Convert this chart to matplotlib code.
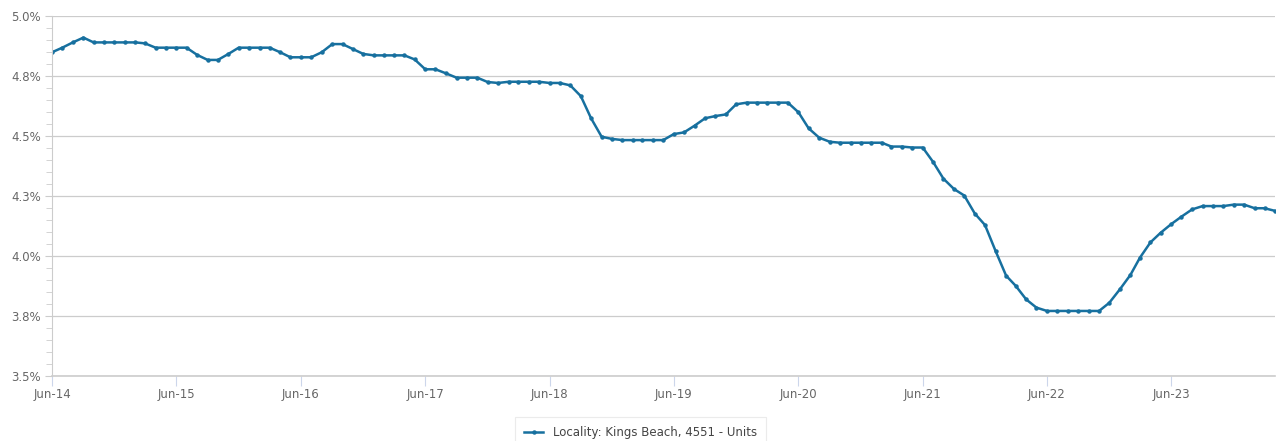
import numpy as np
import pandas as pd
import matplotlib
matplotlib.use('Agg')
import matplotlib.pyplot as plt
from matplotlib.ticker import MultipleLocator

plt.rcParams['font.family'] = ['DejaVu Sans']

# monthly yield values, Jun-14 .. Apr-24
values = [
    4.849, 4.868, 4.890, 4.910, 4.890, 4.890, 4.890, 4.890, 4.890, 4.886,
    4.868, 4.868, 4.868, 4.868, 4.838, 4.817, 4.817, 4.842, 4.868, 4.868,
    4.868, 4.868, 4.849, 4.828, 4.828, 4.828, 4.849, 4.883, 4.883, 4.862,
    4.842, 4.836, 4.836, 4.836, 4.836, 4.819, 4.778, 4.778, 4.761, 4.743,
    4.743, 4.743, 4.725, 4.721, 4.726, 4.726, 4.726, 4.726, 4.721, 4.721,
    4.711, 4.666, 4.574, 4.497, 4.488, 4.483, 4.483, 4.483, 4.483, 4.483,
    4.508, 4.515, 4.543, 4.574, 4.583, 4.590, 4.632, 4.639, 4.639, 4.639,
    4.639, 4.639, 4.599, 4.532, 4.493, 4.476, 4.472, 4.472, 4.472, 4.472,
    4.472, 4.456, 4.456, 4.452, 4.452, 4.393, 4.322, 4.279, 4.252, 4.177,
    4.129, 4.021, 3.918, 3.876, 3.819, 3.785, 3.771, 3.771, 3.771, 3.771,
    3.771, 3.771, 3.805, 3.861, 3.921, 3.993, 4.057, 4.097, 4.133, 4.164,
    4.194, 4.208, 4.208, 4.208, 4.214, 4.214, 4.199, 4.199, 4.188,
]
dates = pd.date_range('2014-06-01', periods=len(values), freq='MS')

y_ticks = [3.5, 3.75, 4.0, 4.25, 4.5, 4.75, 5.0]
y_labels = ['3.5%', '3.8%', '4.0%', '4.3%', '4.5%', '4.8%', '5.0%']
x_ticks = pd.date_range('2014-06-01', '2023-06-01', freq='12MS')
x_labels = [d.strftime('%b-%y') for d in x_ticks]
series_name = 'Locality: Kings Beach, 4551 - Units'

line_color = '#17709f'
text_color = '#666666'

fig = plt.figure(figsize=(12.76, 4.41), dpi=100)
ax = fig.add_axes([0.0408, 0.1474, 0.9585, 0.8163])

ax.plot(dates, values, color=line_color, lw=1.8, marker='o', markersize=2.2,
        label=series_name, solid_joinstyle='round')

ax.set_ylim(3.5, 5.0)
ax.set_xlim(dates[0], dates[-1])
ax.set_yticks(y_ticks)
ax.set_yticklabels(y_labels)
ax.yaxis.set_minor_locator(MultipleLocator(0.05))
ax.set_xticks(x_ticks)
ax.set_xticklabels(x_labels)

ax.grid(axis='y', color='#cccccc', lw=0.9)
ax.set_axisbelow(True)
for s in ['top', 'right']:
    ax.spines[s].set_visible(False)
ax.spines['left'].set_color('#cccccc')
ax.spines['bottom'].set_color('#cccccc')
ax.spines['bottom'].set_linewidth(1.2)

ax.tick_params(axis='y', which='major', length=5, color='#cccccc', labelcolor=text_color, labelsize=8.5, pad=3)
ax.tick_params(axis='y', which='minor', length=4, color='#cccccc')
ax.tick_params(axis='x', which='major', length=7, color='#ccd6eb', labelcolor=text_color, labelsize=8.5, pad=2)

leg = fig.legend(loc='upper center', bbox_to_anchor=(0.502, 0.068), fontsize=8.5,
                 frameon=True, fancybox=False, handlelength=1.6, borderpad=0.75,
                 labelcolor='#444444')
leg.get_frame().set_edgecolor('#e6e6e6')
leg.get_frame().set_linewidth(0.8)

fig.savefig('out.png', dpi=100)
